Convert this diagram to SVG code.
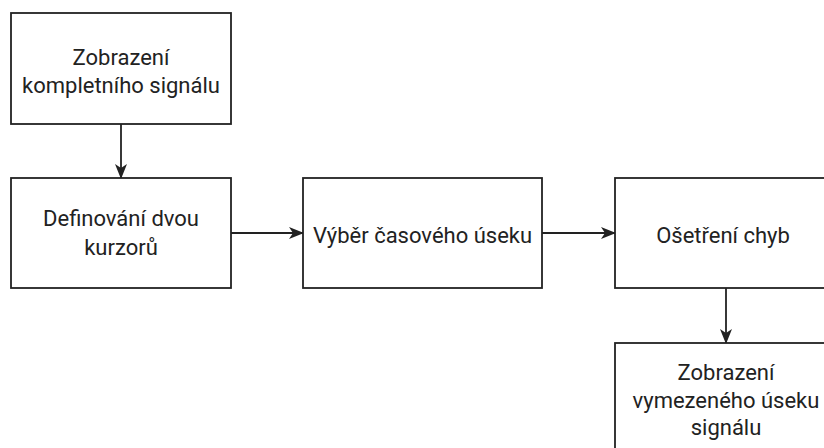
<svg xmlns="http://www.w3.org/2000/svg" width="824" height="448" viewBox="0 0 824 448">
<style>
.box{fill:#fff;stroke:#222;stroke-width:1.8}
.t{font-family:Roboto,"Liberation Sans",Arial,sans-serif;font-size:22px;fill:#222;text-anchor:middle}
.c{stroke:#222;stroke-width:1.8;fill:none}
</style>
<defs>
<marker id="arr" viewBox="0 0 15 12" refX="14" refY="6" markerWidth="15" markerHeight="12" markerUnits="userSpaceOnUse" orient="auto">
<path d="M0,0 L15,6 L0,12 L4,6 Z" fill="#222"/>
</marker>
</defs>
<rect width="824" height="448" fill="#fff"/>
<g id="connectors">
<line class="c" x1="121" y1="124" x2="121" y2="178" marker-end="url(#arr)"/>
<line class="c" x1="231" y1="233" x2="303" y2="233" marker-end="url(#arr)"/>
<line class="c" x1="542" y1="233" x2="615" y2="233" marker-end="url(#arr)"/>
<line class="c" x1="726" y1="288" x2="726" y2="343" marker-end="url(#arr)"/>
</g>
<g id="n1">
<rect class="box" x="11" y="13" width="220" height="111"/>
<text class="t" x="121" y="65">Zobrazení</text>
<text class="t" x="121" y="93">kompletního signálu</text>
</g>
<g id="n2">
<rect class="box" x="11" y="178" width="220" height="110"/>
<text class="t" x="121" y="226">Definování dvou</text>
<text class="t" x="121" y="255">kurzorů</text>
</g>
<g id="n3">
<rect class="box" x="303" y="178" width="239" height="110"/>
<text class="t" x="422.5" y="243">Výběr časového úseku</text>
</g>
<g id="n4">
<rect class="box" x="615" y="178" width="222" height="110"/>
<text class="t" x="723" y="243">Ošetření chyb</text>
</g>
<g id="n5">
<rect class="box" x="615" y="343" width="222" height="112"/>
<text class="t" x="726" y="380">Zobrazení</text>
<text class="t" x="726" y="408">vymezeného úseku</text>
<text class="t" x="726" y="435">signálu</text>
</g>
</svg>
